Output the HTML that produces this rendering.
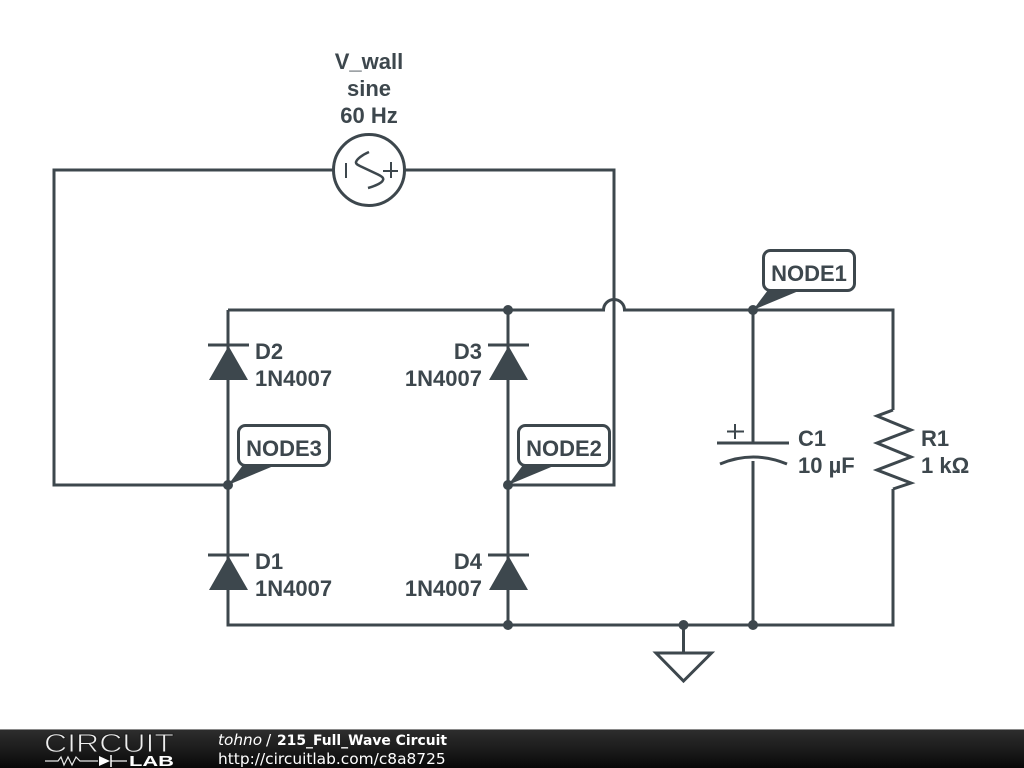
<!DOCTYPE html>
<html><head><meta charset="utf-8"><style>
html,body{margin:0;padding:0;background:#fff;width:1024px;height:768px;overflow:hidden}
svg{display:block}
.l{font:bold 22px "Liberation Sans",sans-serif;fill:#3d474d}
.w{fill:none;stroke:#3d474d;stroke-width:3}
.f{fill:#3d474d;stroke:none}
.nb{fill:#fff;stroke:#3d474d;stroke-width:3}
</style></head><body>
<svg width="1024" height="768" viewBox="0 0 1024 768" xmlns="http://www.w3.org/2000/svg">
<defs><linearGradient id="g" x1="0" y1="0" x2="0" y2="1"><stop offset="0" stop-color="#2e2e2e"/><stop offset="0.5" stop-color="#1c1c1c"/><stop offset="1" stop-color="#080808"/></linearGradient></defs>
<rect width="1024" height="768" fill="#fff"/>
<path class="w" d="M333 170H54V485H228M405 170H614V485H508"/>
<path class="w" d="M228 310H603.500A10.500 10.500 0 0 1 624.500 310H893V410M893 489V625H228V310M508 310V625M753 310V443M753 461V625M683.500 625V653"/>
<circle class="w" cx="369" cy="170" r="35.500"/>
<path class="w" style="stroke-width:2" d="M346 163V178M383 171H398M391 162V178"/>
<path class="w" style="stroke-width:2.500" d="M369 152C362 155 357 159 356 162C355.500 164 358 165 361 166.500L378 174.500C382 176.500 384 178 383 180C382 183 375 186 368 188"/>
<path class="w" d="M208 345H249M488 345H529M208 555H249M488 555H529"/>
<path class="f" d="M228.500 346L248 380H209ZM508.500 346L528 380H489ZM228.500 556L248 590H209ZM508.500 556L528 590H489Z"/>
<path class="w" d="M717 443H789"/>
<path class="w" d="M720 464Q753 450 787 464"/>
<path class="w" style="stroke-width:2" d="M735 424V439M727 431.500H744"/>
<path class="w" d="M893 410L877 416L911 430L877 443L911 457L877 470L911 483L893 489"/>
<path class="w" d="M656 653H711.500L683.500 681Z"/>
<g class="f">
<circle cx="228" cy="485" r="5"/><circle cx="508" cy="485" r="5"/><circle cx="508" cy="310" r="5"/><circle cx="753" cy="310" r="5"/><circle cx="683.500" cy="625" r="5"/><circle cx="753" cy="625" r="5"/><circle cx="508" cy="625" r="5"/>
<path d="M228 485L243 465H276Z"/><path d="M508 485L523 465H556Z"/><path d="M753 310L768 290H801Z"/>
</g>
<rect class="nb" x="238.500" y="425.500" width="91" height="40" rx="7"/>
<rect class="nb" x="518.500" y="425.500" width="91" height="40" rx="7"/>
<rect class="nb" x="763.500" y="250.500" width="91" height="40" rx="7"/>
<g class="l">
<text x="284" y="456" text-anchor="middle">NODE3</text>
<text x="564" y="456" text-anchor="middle">NODE2</text>
<text x="809" y="281" text-anchor="middle">NODE1</text>
<text x="369" y="69" text-anchor="middle">V_wall</text>
<text x="369" y="96" text-anchor="middle">sine</text>
<text x="369" y="123" text-anchor="middle">60 Hz</text>
<text x="255" y="359">D2</text><text x="255" y="386">1N4007</text>
<text x="255" y="569">D1</text><text x="255" y="596">1N4007</text>
<text x="482" y="359" text-anchor="end">D3</text><text x="482" y="386" text-anchor="end">1N4007</text>
<text x="482" y="569" text-anchor="end">D4</text><text x="482" y="596" text-anchor="end">1N4007</text>
<text x="798" y="446">C1</text><text x="798" y="473">10 µF</text>
<text x="921" y="446">R1</text><text x="921" y="473">1 kΩ</text>
</g>
<rect x="0" y="729" width="1024" height="39" fill="url(#g)"/>
<rect x="0" y="729" width="1024" height="1" fill="#8a8a8a"/>
<text x="44" y="752" font-family="Liberation Sans,sans-serif" font-size="26" fill="#eee" stroke="#1e1e1e" stroke-width="0.9" textLength="130" lengthAdjust="spacingAndGlyphs">CIRCUIT</text>
<path d="M45 761H58L61 757L64 765L68 757L72 765L76 757L80 761H98" fill="none" stroke="#e8e8e8" stroke-width="1.200"/>
<path d="M99 756V766L110 761Z" fill="#fff"/><path d="M111 755V767" stroke="#fff" stroke-width="1.500"/><path d="M111 761H127" stroke="#fff" stroke-width="1.200"/>
<text x="129" y="766" font-family="Liberation Sans,sans-serif" font-weight="bold" font-size="15" fill="#fff" textLength="45" lengthAdjust="spacingAndGlyphs">LAB</text>
<text x="218" y="745" font-family="DejaVu Sans,sans-serif" font-size="15.300" font-style="italic" fill="#fff">tohno</text>
<text x="266" y="745" font-family="DejaVu Sans,sans-serif" font-size="15.300" fill="#fff">/</text>
<text x="277" y="745" font-family="DejaVu Sans,sans-serif" font-size="14.500" font-weight="bold" fill="#fff" textLength="170" lengthAdjust="spacingAndGlyphs">215_Full_Wave Circuit</text>
<text x="218" y="764" font-family="DejaVu Sans,sans-serif" font-size="15.400" fill="#fff">http://circuitlab.com/c8a8725</text>
</svg>
</body></html>
